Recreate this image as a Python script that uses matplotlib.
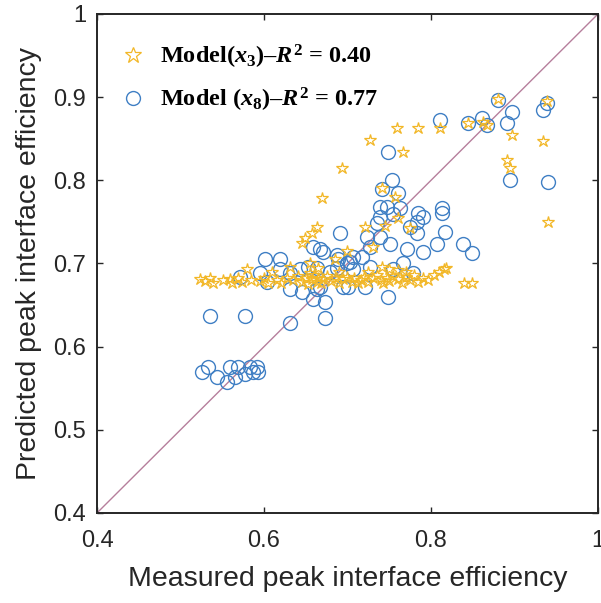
# measured vs predicted peak interface efficiency, two regression models

import numpy as np
import matplotlib.pyplot as plt

plt.rcParams['font.family'] = ['Liberation Sans', 'DejaVu Sans']
plt.rcParams['mathtext.fontset'] = 'custom'
plt.rcParams['mathtext.rm'] = 'Liberation Serif:bold'
plt.rcParams['mathtext.it'] = 'Liberation Serif:italic:bold'
plt.rcParams['mathtext.bf'] = 'Liberation Serif:bold'

# model with x3 (stars)
x3_meas = [0.759, 0.784, 0.811, 0.727, 0.766, 0.693, 0.669, 0.741, 0.757, 0.897,
           0.934, 0.891, 0.895, 0.940, 0.862, 0.867, 0.880, 0.939, 0.844,
           0.663, 0.657, 0.649, 0.645, 0.721, 0.775, 0.745, 0.760, 0.730, 0.700, 0.685,
           0.523, 0.529, 0.535, 0.539, 0.551, 0.559, 0.562, 0.569, 0.574, 0.580,
           0.585, 0.595, 0.600, 0.605, 0.616, 0.620, 0.628, 0.635, 0.641, 0.645,
           0.650, 0.653, 0.657, 0.660, 0.663, 0.665, 0.668, 0.671, 0.675, 0.680,
           0.685, 0.690, 0.695, 0.700, 0.705, 0.708, 0.712, 0.716, 0.720, 0.725,
           0.730, 0.735, 0.740, 0.743, 0.747, 0.750, 0.755, 0.760, 0.765, 0.770,
           0.775, 0.780, 0.785, 0.790, 0.797, 0.803, 0.810, 0.815, 0.818, 0.840, 0.849,
           0.631, 0.655, 0.665, 0.741, 0.750, 0.760, 0.770, 0.655, 0.610, 0.690, 0.725]
x3_pred = [0.863, 0.863, 0.863, 0.849, 0.834, 0.815, 0.779, 0.791, 0.780, 0.855,
           0.847, 0.825, 0.815, 0.750, 0.870, 0.866, 0.898, 0.895, 0.869,
           0.744, 0.737, 0.731, 0.725, 0.744, 0.743, 0.745, 0.755, 0.720, 0.715, 0.705,
           0.681, 0.679, 0.682, 0.677, 0.680, 0.681, 0.677, 0.682, 0.678, 0.693,
           0.680, 0.679, 0.683, 0.676, 0.680, 0.677, 0.682, 0.680, 0.685, 0.678,
           0.683, 0.675, 0.681, 0.686, 0.678, 0.683, 0.676, 0.681, 0.685, 0.679,
           0.683, 0.677, 0.681, 0.684, 0.678, 0.682, 0.676, 0.680, 0.684, 0.678,
           0.682, 0.686, 0.680, 0.676, 0.683, 0.679, 0.685, 0.681, 0.677, 0.684,
           0.680, 0.686, 0.678, 0.683, 0.680, 0.686, 0.690, 0.693, 0.695, 0.677, 0.677,
           0.696, 0.700, 0.695, 0.696, 0.693, 0.692, 0.690, 0.688, 0.690, 0.690, 0.690]

# model with x8 (circles)
x8_meas = [0.526, 0.533, 0.544, 0.556, 0.559, 0.565, 0.569, 0.577, 0.583, 0.587, 0.592, 0.593,
           0.535, 0.577, 0.631,
           0.571, 0.595, 0.601, 0.604, 0.619, 0.619, 0.631, 0.631, 0.643, 0.645,
           0.653, 0.659, 0.663, 0.663, 0.667, 0.659, 0.673, 0.673, 0.687, 0.689,
           0.691, 0.699, 0.701, 0.707, 0.707, 0.717, 0.721, 0.723, 0.727, 0.735,
           0.739, 0.739, 0.739, 0.741, 0.747, 0.749, 0.749, 0.751, 0.753, 0.754,
           0.754, 0.760, 0.763, 0.767, 0.771, 0.775, 0.778, 0.783, 0.783, 0.784,
           0.790, 0.790, 0.807, 0.813, 0.813, 0.817, 0.838, 0.849,
           0.671, 0.703, 0.727, 0.679, 0.687, 0.695, 0.667,
           0.811, 0.844, 0.861, 0.867, 0.880, 0.891, 0.897, 0.934, 0.939, 0.895, 0.940]
x8_pred = [0.569, 0.576, 0.564, 0.558, 0.575, 0.564, 0.575, 0.567, 0.576, 0.570, 0.576, 0.570,
           0.637, 0.637, 0.628,
           0.684, 0.689, 0.705, 0.678, 0.705, 0.693, 0.689, 0.669, 0.693, 0.666,
           0.696, 0.720, 0.695, 0.669, 0.717, 0.657, 0.654, 0.635, 0.710, 0.705,
           0.737, 0.700, 0.672, 0.708, 0.693, 0.708, 0.672, 0.732, 0.696, 0.749,
           0.768, 0.756, 0.732, 0.790, 0.768, 0.834, 0.660, 0.723, 0.800, 0.759,
           0.693, 0.785, 0.767, 0.700, 0.717, 0.744, 0.689, 0.750, 0.737, 0.761,
           0.756, 0.714, 0.723, 0.767, 0.761, 0.738, 0.723, 0.713,
           0.714, 0.702, 0.720, 0.690, 0.695, 0.672, 0.672,
           0.873, 0.869, 0.875, 0.867, 0.897, 0.869, 0.882, 0.885, 0.893, 0.800, 0.798]

fig = plt.figure(figsize=(6.01, 6.03), dpi=100)
ax = fig.add_axes([0.1614, 0.1493, 0.8336, 0.8275])

ax.plot([0.4, 1], [0.4, 1], color='#b67f9c', lw=1.0, zorder=1)
ax.plot(x3_meas, x3_pred, ls='none', marker='*', ms=9, mfc='none', mec='#f2b727',
        mew=0.9, label=r'Model($x_3$)–$R^2$ = 0.40', zorder=3)
ax.plot(x8_meas, x8_pred, ls='none', marker='o', ms=10, mfc='none', mec='#3f7fc4',
        mew=1.0, label=r'Model ($x_8$)–$R^2$ = 0.77', zorder=2)

ax.set_xlim(0.4, 1)
ax.set_ylim(0.4, 1)
ax.set_xticks([0.4, 0.6, 0.8, 1])
ax.set_xticklabels(['0.4', '0.6', '0.8', '1'])
ax.set_yticks([0.4, 0.5, 0.6, 0.7, 0.8, 0.9, 1])
ax.set_yticklabels(['0.4', '0.5', '0.6', '0.7', '0.8', '0.9', '1'])
ax.tick_params(direction='in', top=True, right=True, labelsize=17, colors='#262626',
               length=4, width=1.0)
ax.tick_params(axis='x', pad=12)
ax.tick_params(axis='y', pad=8)
for s in ax.spines.values():
    s.set_color('#262626')
    s.set_linewidth(1.4)

ax.set_xlabel('Measured peak interface efficiency', fontsize=20.5, color='#262626',
              labelpad=10)
ax.set_ylabel('Predicted peak interface efficiency', fontsize=20.5, color='#262626',
              labelpad=8)

leg = ax.legend(loc='upper left', bbox_to_anchor=(0.019, 0.961), frameon=False,
                labelspacing=0.6, handletextpad=0.4, borderaxespad=0.0,
                handlelength=1.4,
                prop={'family': 'Liberation Serif', 'weight': 'bold', 'size': 17.5})
leg.legend_handles[0].set_markersize(12)
leg.legend_handles[1].set_markersize(10)

fig.savefig('out.png', dpi=100)
